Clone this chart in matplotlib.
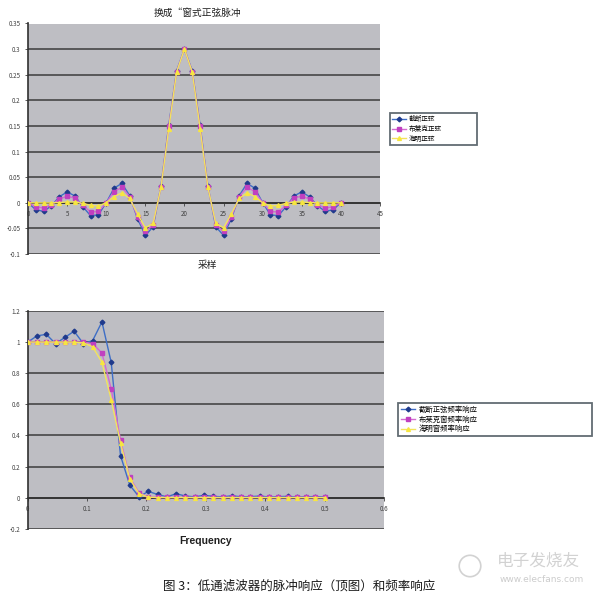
import matplotlib
matplotlib.use('Agg')
import matplotlib.pyplot as plt
from matplotlib.patches import Circle

plt.rcParams['font.family'] = ['Noto Sans CJK SC', 'DejaVu Sans']

# impulse response (top chart), sample index 0..40
SAMPLES = list(range(41))
TRUNC_SINC = [0.0, -0.0136, -0.0168, -0.0058, 0.0117, 0.0212, 0.0134, -0.0076, -0.0252, -0.0234,
              0.0, 0.0286, 0.0378, 0.0140, -0.0312, -0.0637, -0.0468, 0.0328, 0.1514, 0.2575,
              0.3,
              0.2575, 0.1514, 0.0328, -0.0468, -0.0637, -0.0312, 0.0140, 0.0378, 0.0286, 0.0,
              -0.0234, -0.0252, -0.0076, 0.0134, 0.0212, 0.0117, -0.0058, -0.0168, -0.0136, 0.0]
BLACKMAN_SINC = [0.0, -0.008, -0.010, -0.004, 0.007, 0.013, 0.009, -0.005, -0.018, -0.017,
                 0.0, 0.022, 0.030, 0.012, -0.028, -0.056, -0.043, 0.031, 0.149, 0.256,
                 0.3,
                 0.256, 0.149, 0.031, -0.043, -0.056, -0.028, 0.012, 0.030, 0.022, 0.0,
                 -0.017, -0.018, -0.005, 0.009, 0.013, 0.007, -0.004, -0.010, -0.008, 0.0]
HAMMING_SINC = [0.0, 0.0, -0.0002, -0.0001, 0.0005, 0.0014, 0.0014, -0.0011, -0.0051, -0.0062,
                0.0, 0.0121, 0.0193, 0.0084, -0.0215, -0.049, -0.040, 0.030, 0.145, 0.255,
                0.3,
                0.255, 0.145, 0.030, -0.040, -0.049, -0.0215, 0.0084, 0.0193, 0.0121, 0.0,
                -0.0062, -0.0051, -0.0011, 0.0014, 0.0014, 0.0005, -0.0001, -0.0002, 0.0, 0.0]
TOP_LABELS = ['截断正弦', '布莱克正弦', '海明正弦']
TOP_XTICKS = [0, 5, 10, 15, 20, 25, 30, 35, 40, 45]
TOP_YTICKS = [-0.1, -0.05, 0, 0.05, 0.1, 0.15, 0.2, 0.25, 0.3, 0.35]
TOP_YLABELS = ['-0.1', '-0.05', '0', '0.05', '0.1', '0.15', '0.2', '0.25', '0.3', '0.35']

# frequency response (bottom chart)
FREQ = [0.0, 0.0156, 0.0313, 0.0469, 0.0625, 0.0781, 0.0938, 0.1094, 0.125, 0.1406, 0.1563,
        0.1719, 0.1875, 0.2031, 0.2188, 0.2344, 0.25, 0.2656, 0.2813, 0.2969, 0.3125, 0.3281,
        0.3438, 0.3594, 0.375, 0.3906, 0.4063, 0.4219, 0.4375, 0.4531, 0.4688, 0.4844, 0.5]
TRUNC_RESP = [1.00, 1.04, 1.05, 0.99, 1.03, 1.07, 0.99, 1.01, 1.13, 0.87, 0.27, 0.08, 0.005,
              0.04, 0.02, 0.005, 0.025, 0.01, 0.005, 0.015, 0.008, 0.005, 0.012, 0.005, 0.006,
              0.01, 0.004, 0.006, 0.008, 0.004, 0.005, 0.007, 0.004]
BLACKMAN_RESP = [1.0, 1.0, 1.0, 1.0, 1.0, 1.0, 1.0, 0.99, 0.93, 0.70, 0.37, 0.13, 0.03, 0.005,
                 0.002, 0.002, 0.001, 0.002, 0.001, 0.002, 0.001, 0.001, 0.002, 0.001, 0.001,
                 0.002, 0.001, 0.001, 0.001, 0.002, 0.001, 0.001, 0.001]
HAMMING_RESP = [1.0, 1.0, 1.0, 1.0, 1.0, 1.0, 0.995, 0.97, 0.87, 0.63, 0.35, 0.12, 0.025, 0.003,
                0.0, 0.0, 0.0, 0.0, 0.0, 0.0, 0.0, 0.0, 0.0, 0.0, 0.0, 0.0, 0.0, 0.0, 0.0, 0.0,
                0.0, 0.0, 0.0]
BOT_LABELS = ['截断正弦频率响应', '布莱克窗频率响应', '海明窗频率响应']
BOT_XTICKS = [0, 0.1, 0.2, 0.3, 0.4, 0.5, 0.6]
BOT_XLABELS = ['0', '0.1', '0.2', '0.3', '0.4', '0.5', '0.6']
BOT_YTICKS = [-0.2, 0, 0.2, 0.4, 0.6, 0.8, 1.0, 1.2]
BOT_YLABELS = ['-0.2', '0', '0.2', '0.4', '0.6', '0.8', '1', '1.2']

# styles
BG = '#bebec3'
GRID = '#505050'
STYLES = [
    dict(color='#3e6ec6', marker='D', markersize=2.4, markerfacecolor='#1f3a8c',
         markeredgecolor='#1f3a8c', lw=1.0, zorder=3),
    dict(color='#d46ad2', marker='s', markersize=2.2, markerfacecolor='#c040c0',
         markeredgecolor='#c040c0', lw=1.0, zorder=4),
    dict(color='#f3e35c', marker='^', markersize=2.8, markerfacecolor='#f7e640',
         markeredgecolor='#f7e640', lw=1.0, zorder=5),
]


def style_axes(ax, xticks, xlabels, yticks, ylabels):
    ax.set_facecolor(BG)
    for s in ['top', 'right']:
        ax.spines[s].set_visible(False)
    ax.spines['left'].set_color('#303030')
    ax.spines['left'].set_linewidth(1.2)
    ax.spines['bottom'].set_position(('data', 0))
    ax.spines['bottom'].set_color('#303030')
    ax.spines['bottom'].set_linewidth(1.2)
    ax.set_xticks(xticks)
    ax.set_xticklabels(xlabels)
    ax.set_yticks(yticks)
    ax.set_yticklabels(ylabels)
    ax.tick_params(axis='both', labelsize=4.5, colors='#404040', length=2.5, width=0.6,
                   pad=3)
    ax.yaxis.grid(True, color=GRID, lw=1.3)
    ax.set_axisbelow(True)


def style_legend(leg):
    leg.get_frame().set_edgecolor('#3c4850')
    leg.get_frame().set_linewidth(1.3)


fig = plt.figure(figsize=(6.0, 5.95), dpi=100)

# top chart
ax1 = fig.add_axes([28 / 600, 1 - 254 / 595, 352 / 600, 230.5 / 595])
series_top = [TRUNC_SINC, BLACKMAN_SINC, HAMMING_SINC]
for vals, lab, st in zip(series_top, TOP_LABELS, STYLES):
    ax1.plot(SAMPLES, vals, label=lab, **st)
ax1.set_xlim(0, 45)
ax1.set_ylim(-0.1, 0.35)
style_axes(ax1, TOP_XTICKS, [str(t) for t in TOP_XTICKS], TOP_YTICKS, TOP_YLABELS)
fig.text(0.33, 1 - 13 / 595, '换成“窗式正弦脉冲', fontsize=7, ha='center', va='center',
         color='#202020')
fig.text(207 / 600, 1 - 265 / 595, '采样', fontsize=7, ha='center', va='center',
         color='#202020')
leg1 = ax1.legend(loc='upper left',
                  bbox_to_anchor=(390 / 600, 1 - 143 / 595, 87 / 600, 30 / 595),
                  bbox_transform=fig.transFigure, mode='expand', fontsize=4.8,
                  frameon=True, fancybox=False, handlelength=2.0, handletextpad=0.5,
                  borderpad=0.35, labelspacing=0.25, borderaxespad=0)
style_legend(leg1)

# bottom chart
ax2 = fig.add_axes([27.7 / 600, 1 - 528.7 / 595, 356.3 / 600, 217.7 / 595])
series_bot = [TRUNC_RESP, BLACKMAN_RESP, HAMMING_RESP]
for vals, lab, st in zip(series_bot, BOT_LABELS, STYLES):
    ax2.plot(FREQ, vals, label=lab, **st)
ax2.set_xlim(0, 0.6)
ax2.set_ylim(-0.2, 1.2)
style_axes(ax2, BOT_XTICKS, BOT_XLABELS, BOT_YTICKS, BOT_YLABELS)
fig.text(206 / 600, 1 - 541 / 595, 'Frequency', fontsize=7.5, fontweight='bold',
         family=['Liberation Sans', 'DejaVu Sans'], ha='center', va='center',
         color='#202020')
leg2 = ax2.legend(loc='upper left',
                  bbox_to_anchor=(398 / 600, 1 - 440 / 595, 194 / 600, 37 / 595),
                  bbox_transform=fig.transFigure, mode='expand', fontsize=5.3,
                  frameon=True, fancybox=False, handlelength=2.0, handletextpad=0.5,
                  borderpad=0.35, labelspacing=0.25, borderaxespad=0)
style_legend(leg2)

# caption and watermark
fig.text(299 / 600, 1 - 586 / 595, '图 3：低通滤波器的脉冲响应（顶图）和频率响应',
         fontsize=9, ha='center', va='center', color='#1a1a1a')
fig.text(538 / 600, 1 - 561 / 595, '电子发烧友', fontsize=12, ha='center', va='center',
         color='#d2d2d2', style='italic')
fig.text(542 / 600, 1 - 579 / 595, 'www.elecfans.com', fontsize=6.5, ha='center',
         va='center', color='#cccccc', family=['DejaVu Sans'])
fig.patches.append(Circle((470 / 600, 1 - 566 / 595), 0.018, transform=fig.transFigure,
                          fill=False, ec='#d2d2d2', lw=1.2))

fig.savefig('out.png', dpi=100)
